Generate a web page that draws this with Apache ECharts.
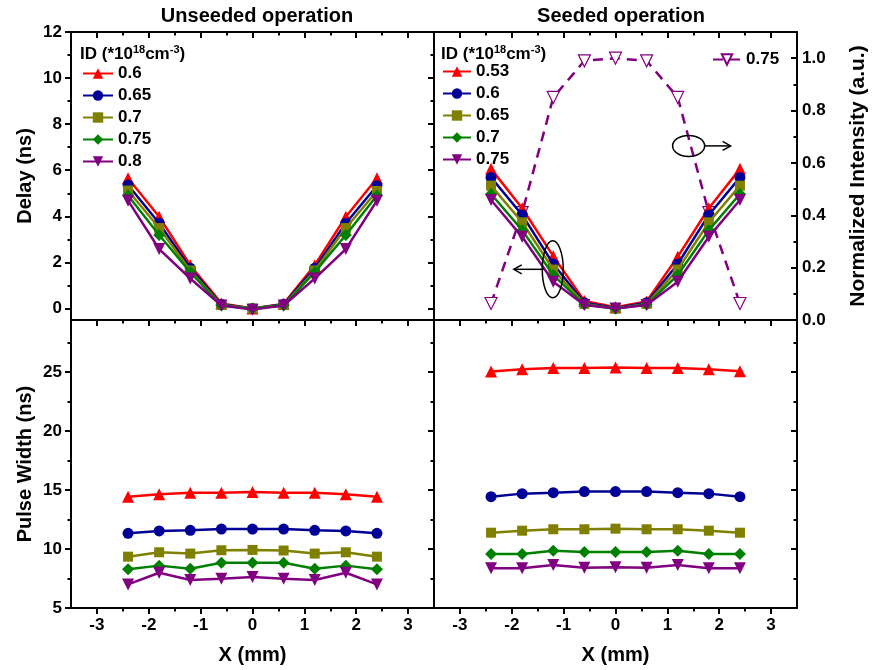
<!DOCTYPE html>
<html><head><meta charset="utf-8">
<script src="https://cdn.jsdelivr.net/npm/echarts@6/dist/echarts.min.js"></script>
<style>html,body{margin:0;padding:0;background:#fff}#c{width:876px;height:670px}</style>
</head><body><div id="c"></div>
<script>
// ---------- data ----------
const xPositions = [-2.4, -1.8, -1.2, -0.6, 0, 0.6, 1.2, 1.8, 2.4];

const unseededLabels = ['0.6', '0.65', '0.7', '0.75', '0.8'];
const seededLabels = ['0.53', '0.6', '0.65', '0.7', '0.75'];
const intensityLabel = '0.75';

const unseededDelay060 = [5.65, 3.98, 1.88, 0.22, 0.0, 0.20, 1.88, 3.98, 5.65];
const unseededDelay065 = [5.36, 3.70, 1.75, 0.18, 0.0, 0.18, 1.75, 3.70, 5.33];
const unseededDelay070 = [5.12, 3.49, 1.65, 0.15, 0.0, 0.15, 1.65, 3.49, 5.10];
const unseededDelay075 = [4.90, 3.19, 1.58, 0.13, 0.0, 0.13, 1.58, 3.19, 4.90];
const unseededDelay080 = [4.68, 2.58, 1.30, 0.13, -0.05, 0.13, 1.30, 2.58, 4.68];

const seededDelay053 = [6.06, 4.35, 2.27, 0.33, 0.05, 0.30, 2.25, 4.35, 6.06];
const seededDelay060 = [5.69, 4.06, 1.93, 0.25, 0.02, 0.25, 1.93, 4.06, 5.69];
const seededDelay065 = [5.33, 3.74, 1.69, 0.20, 0.0, 0.20, 1.69, 3.74, 5.33];
const seededDelay070 = [4.97, 3.40, 1.45, 0.17, 0.0, 0.17, 1.45, 3.40, 4.97];
const seededDelay075 = [4.71, 3.11, 1.16, 0.15, 0.0, 0.15, 1.16, 3.11, 4.71];

const seededIntensity075 = [0.063, 0.41, 0.85, 0.99, 1.0, 0.99, 0.85, 0.41, 0.063];

const unseededWidth060 = [14.43, 14.63, 14.77, 14.77, 14.83, 14.77, 14.77, 14.63, 14.43];
const unseededWidth065 = [11.33, 11.53, 11.58, 11.69, 11.69, 11.69, 11.58, 11.53, 11.33];
const unseededWidth070 = [9.35, 9.72, 9.61, 9.89, 9.92, 9.87, 9.61, 9.72, 9.35];
const unseededWidth075 = [8.28, 8.59, 8.33, 8.84, 8.84, 8.84, 8.33, 8.59, 8.28];
const unseededWidth080 = [7.00, 7.99, 7.37, 7.48, 7.63, 7.48, 7.37, 7.99, 7.00];

const seededWidth053 = [25.03, 25.23, 25.34, 25.34, 25.37, 25.34, 25.34, 25.23, 25.06];
const seededWidth060 = [14.43, 14.69, 14.77, 14.86, 14.86, 14.86, 14.77, 14.69, 14.43];
const seededWidth065 = [11.38, 11.55, 11.67, 11.67, 11.72, 11.67, 11.67, 11.55, 11.38];
const seededWidth070 = [9.58, 9.58, 9.86, 9.75, 9.75, 9.75, 9.86, 9.58, 9.58];
const seededWidth075 = [8.36, 8.36, 8.64, 8.42, 8.45, 8.42, 8.64, 8.36, 8.36];

// tick values
const xTicks = [-3, -2, -1, 0, 1, 2, 3];
const xMinorTicks = [-2.5, -1.5, -0.5, 0.5, 1.5, 2.5];
const delayTicks = [0, 2, 4, 6, 8, 10, 12];
const delayMinorTicks = [1, 3, 5, 7, 9, 11];
const widthTicks = [5, 10, 15, 20, 25];
const widthMinorTicks = [7.5, 12.5, 17.5, 22.5, 27.5];
const intensityTicks = [0, 0.2, 0.4, 0.6, 0.8, 1.0];
const intensityMinorTicks = [0.1, 0.3, 0.5, 0.7, 0.9];

// ---------- styling ----------
const FONT = '"Liberation Sans", Arial, sans-serif';
const colors = ['#FF0000', '#000096', '#808000', '#008000', '#800080'];
const symbols = ['triangle', 'circle', 'rect', 'diamond', 'triangle'];
const symbolSizes = [12, 11, 10, 12, 12];
const symbolRotates = [0, 0, 0, 0, 180];

const chart = echarts.init(document.getElementById('c'), null, {renderer: 'canvas'});

const grids = [
  {left: 71, top: 32, width: 363, height: 288},
  {left: 434, top: 32, width: 363, height: 288},
  {left: 71, top: 320, width: 363, height: 288},
  {left: 434, top: 320, width: 363, height: 288}
];

const xAxes = [], yAxes = [];
function addAxis(list, g, pos, min, max, major, minor, o) {
  o = o || {};
  const inside = !!o.inside;
  list.push({
    type: 'value', gridIndex: g, position: pos, min: min, max: max,
    splitLine: {show: false},
    axisLine: {show: true, onZero: false, lineStyle: {color: '#000', width: 2}},
    axisTick: {show: true, inside: inside, length: 6, customValues: major, lineStyle: {color: '#000', width: 2}},
    axisLabel: {show: !!o.labels, customValues: major, color: '#000', fontFamily: FONT, fontWeight: 'bold',
      fontSize: o.fontSize || 17, margin: o.margin || 9, formatter: o.formatter || (v => String(v))},
    name: o.name || '', nameLocation: 'middle', nameGap: o.nameGap || 30, nameRotate: o.nameRotate,
    nameTextStyle: {color: '#000', fontFamily: FONT, fontWeight: 'bold', fontSize: o.nameSize || 20}
  });
  const idx = list.length - 1;
  if (minor) {
    list.push({
      type: 'value', gridIndex: g, position: pos, min: min, max: max,
      splitLine: {show: false},
      axisLine: {show: false, onZero: false},
      axisTick: {show: true, inside: inside, length: 3.5, customValues: minor, lineStyle: {color: '#000', width: 2}},
      axisLabel: {show: false}
    });
  }
  return idx;
}
const XMIN = -3.5, XMAX = 3.5;
const DMIN = -0.5, DMAX = 12;
const WMIN = 5, WMAX = 29.4;
const IMIN = 0, IMAX = 1.1;

// grid 0 : unseeded delay
const x0 = addAxis(xAxes, 0, 'bottom', XMIN, XMAX, xTicks, xMinorTicks, {});
addAxis(xAxes, 0, 'top', XMIN, XMAX, xTicks, xMinorTicks, {inside: true});
const y0 = addAxis(yAxes, 0, 'left', DMIN, DMAX, delayTicks, delayMinorTicks,
  {labels: true, name: 'Delay (ns)', nameGap: 36, nameRotate: 90});
// grid 1 : seeded delay + intensity
const x1 = addAxis(xAxes, 1, 'bottom', XMIN, XMAX, xTicks, xMinorTicks, {});
addAxis(xAxes, 1, 'top', XMIN, XMAX, xTicks, xMinorTicks, {inside: true});
const y1 = addAxis(yAxes, 1, 'left', DMIN, DMAX, delayTicks, delayMinorTicks, {});
const yI = addAxis(yAxes, 1, 'right', IMIN, IMAX, intensityTicks, intensityMinorTicks,
  {inside: true, labels: true, margin: 5, fontSize: 17, formatter: v => v.toFixed(1),
   name: 'Normalized Intensity (a.u.)', nameGap: 51, nameRotate: 90, nameSize: 21});
// grid 2 : unseeded width
const x2 = addAxis(xAxes, 2, 'bottom', XMIN, XMAX, xTicks, xMinorTicks,
  {labels: true, name: 'X (mm)', nameGap: 37});
const y2 = addAxis(yAxes, 2, 'left', WMIN, WMAX, widthTicks, widthMinorTicks,
  {labels: true, name: 'Pulse Width (ns)', nameGap: 36, nameRotate: 90});
// grid 3 : seeded width
const x3 = addAxis(xAxes, 3, 'bottom', XMIN, XMAX, xTicks, xMinorTicks,
  {labels: true, name: 'X (mm)', nameGap: 37});
const y3 = addAxis(yAxes, 3, 'left', WMIN, WMAX, widthTicks, widthMinorTicks, {});
addAxis(yAxes, 3, 'right', WMIN, WMAX, widthTicks, widthMinorTicks, {inside: true});

function pairs(vals) { return xPositions.map((x, i) => [x, vals[i]]); }

function mkSeries(name, vals, k, xi, yi) {
  return {
    type: 'line', name: name, xAxisIndex: xi, yAxisIndex: yi, data: pairs(vals),
    symbol: symbols[k], symbolSize: symbolSizes[k], symbolRotate: symbolRotates[k],
    lineStyle: {color: colors[k], width: 2.5},
    itemStyle: {color: colors[k], borderWidth: 0},
    emphasis: {disabled: true}, animation: false, z: 2 + k
  };
}

const unseededDelay = [unseededDelay060, unseededDelay065, unseededDelay070, unseededDelay075, unseededDelay080];
const seededDelay = [seededDelay053, seededDelay060, seededDelay065, seededDelay070, seededDelay075];
const unseededWidth = [unseededWidth060, unseededWidth065, unseededWidth070, unseededWidth075, unseededWidth080];
const seededWidth = [seededWidth053, seededWidth060, seededWidth065, seededWidth070, seededWidth075];

const series = [];
unseededLabels.forEach((l, k) => series.push(mkSeries('U|' + l, unseededDelay[k], k, x0, y0)));
seededLabels.forEach((l, k) => series.push(mkSeries('S|' + l, seededDelay[k], k, x1, y1)));
unseededLabels.forEach((l, k) => series.push(mkSeries('U|' + l, unseededWidth[k], k, x2, y2)));
seededLabels.forEach((l, k) => series.push(mkSeries('S|' + l, seededWidth[k], k, x3, y3)));
series.push({
  type: 'line', name: 'I|' + intensityLabel, xAxisIndex: x1, yAxisIndex: yI, data: pairs(seededIntensity075),
  symbol: 'triangle', symbolSize: 12, symbolRotate: 180,
  lineStyle: {color: '#800080', width: 2.5, type: [10, 7]},
  itemStyle: {color: '#ffffff', borderColor: '#800080', borderWidth: 1.2},
  emphasis: {disabled: true}, animation: false, z: 1
});

const legendText = {color: '#000', fontFamily: FONT, fontWeight: 'bold', fontSize: 17};
const legendFmt = n => n.split('|')[1];

const supText = {
  rich: {
    b: {fontFamily: FONT, fontWeight: 'bold', fontSize: 17, lineHeight: 20, fill: '#000'},
    s: {fontFamily: FONT, fontWeight: 'bold', fontSize: 11, lineHeight: 11, verticalAlign: 'top', fill: '#000'}
  }
};

const option = {
  animation: false,
  backgroundColor: '#fff',
  title: [
    {text: 'Unseeded operation', left: 252, top: 1, textAlign: 'center',
     textStyle: {color: '#000', fontFamily: FONT, fontWeight: 'bold', fontSize: 20}},
    {text: 'Seeded operation', left: 616, top: 1, textAlign: 'center',
     textStyle: {color: '#000', fontFamily: FONT, fontWeight: 'bold', fontSize: 20}}
  ],
  grid: grids,
  xAxis: xAxes,
  yAxis: yAxes,
  legend: [
    {data: unseededLabels.map(l => 'U|' + l), orient: 'vertical', left: 82, top: 65,
     itemWidth: 30, itemHeight: 13, itemGap: 5, formatter: legendFmt, textStyle: legendText,
     selectedMode: false, padding: 0},
    {data: seededLabels.map(l => 'S|' + l), orient: 'vertical', left: 442, top: 63,
     itemWidth: 28, itemHeight: 13, itemGap: 5, formatter: legendFmt, textStyle: legendText,
     selectedMode: false, padding: 0},
    {data: ['I|' + intensityLabel], orient: 'vertical', left: 712, top: 51,
     itemWidth: 28, itemHeight: 13, formatter: legendFmt, textStyle: legendText,
     selectedMode: false, padding: 0}
  ],
  series: series
};
chart.setOption(option);

// header texts + annotations (positions derived from data coordinates)
const pE1 = chart.convertToPixel({xAxisIndex: x1, yAxisIndex: yI}, [1.41, 0.665]);
const pE2 = chart.convertToPixel({xAxisIndex: x1, yAxisIndex: y1}, [-1.21, 1.7]);
const stroke = {stroke: '#000', lineWidth: 1.5, fill: 'none'};
chart.setOption({
  graphic: [
    {type: 'text', left: 80, top: 44, style: Object.assign({text: '{b|ID (*10}{s|18}{b|cm}{s|-3}{b|)}'}, supText)},
    {type: 'text', left: 441, top: 44, style: Object.assign({text: '{b|ID (*10}{s|18}{b|cm}{s|-3}{b|)}'}, supText)},
    {type: 'ellipse', shape: {cx: pE1[0], cy: pE1[1], rx: 16, ry: 10.5}, style: stroke, z: 100},
    {type: 'line', shape: {x1: pE1[0] + 16, y1: pE1[1], x2: pE1[0] + 42, y2: pE1[1]}, style: stroke, z: 100},
    {type: 'polyline', shape: {points: [[pE1[0] + 34, pE1[1] - 4.5], [pE1[0] + 42, pE1[1]], [pE1[0] + 34, pE1[1] + 4.5]]}, style: stroke, z: 100},
    {type: 'ellipse', shape: {cx: pE2[0], cy: pE2[1], rx: 10.5, ry: 28.5}, style: stroke, z: 100},
    {type: 'line', shape: {x1: pE2[0] - 9, y1: pE2[1], x2: pE2[0] - 39, y2: pE2[1]}, style: stroke, z: 100},
    {type: 'polyline', shape: {points: [[pE2[0] - 31, pE2[1] - 4.5], [pE2[0] - 39, pE2[1]], [pE2[0] - 31, pE2[1] + 4.5]]}, style: stroke, z: 100}
  ]
});
</script>
</body></html>
